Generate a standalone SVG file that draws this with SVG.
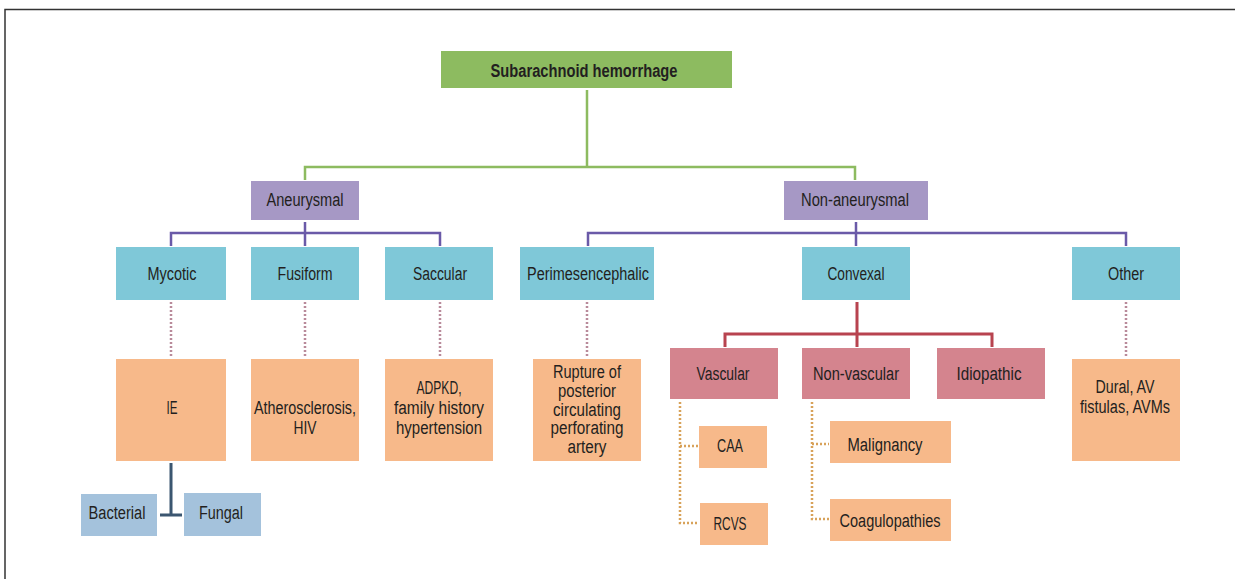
<svg xmlns="http://www.w3.org/2000/svg" width="1235" height="579" viewBox="0 0 1235 579">
<style>
text{font-family:"Liberation Sans",Arial,sans-serif;font-size:18px;fill:#231f20;text-anchor:middle}
.b{font-weight:bold}
.green{fill:#8dbb60}
.purple{fill:#a698c5}
.teal{fill:#7fc8d8}
.orange{fill:#f7b98a}
.red{fill:#d4848e}
.lblue{fill:#a4c2dc}
.lg{stroke:#8dbb60;stroke-width:2.5;fill:none}
.lp{stroke:#6a5aa8;stroke-width:2.5;fill:none}
.lr{stroke:#b8434f;stroke-width:3;fill:none}
.lt{stroke:#3b5670;stroke-width:3;fill:none}
.dp{stroke:#b98a9a;stroke-width:2.5;stroke-dasharray:2 2;fill:none}
.do{stroke:#d8a25a;stroke-width:2.5;stroke-dasharray:2 2;fill:none}
</style>
<rect width="1235" height="579" fill="#fff"/>
<path d="M5 579 V9.5 H1235" stroke="#333" stroke-width="1.5" fill="none"/>
<g id="connectors">
<path class="lg" d="M587 90 V167 M305 180 V167 H855 V180"/>
<path class="lp" d="M305 222 V233 M171 246 V233 H440 V246 M305 233 V246"/>
<path class="lp" d="M856 222 V233 M588 246 V233 H1126 V246 M856 233 V246"/>
<path class="dp" d="M171 302 V357 M305 302 V357 M440 302 V357 M587 302 V357 M1126 302 V357"/>
<path class="lt" d="M171 463 V515 M160 515 H182"/>
<path class="lr" d="M857 302 V334 M725 347 V334 H992 V347 M857 334 V347"/>
<path class="do" d="M680 402 V523 H698 M680 446 H698"/>
<path class="do" d="M812 402 V519 H829 M812 444 H829"/>
</g>
<g id="n-sah"><rect class="green" x="441" y="51" width="291" height="37"/><text class="b" x="584" y="77" textLength="187" lengthAdjust="spacingAndGlyphs">Subarachnoid hemorrhage</text></g>
<g id="n-aneurysmal"><rect class="purple" x="251" y="181" width="108" height="39"/><text x="305" y="206" textLength="77" lengthAdjust="spacingAndGlyphs">Aneurysmal</text></g>
<g id="n-nonaneurysmal"><rect class="purple" x="784" y="181" width="144" height="39"/><text x="855" y="206" textLength="108" lengthAdjust="spacingAndGlyphs">Non-aneurysmal</text></g>
<g id="n-mycotic"><rect class="teal" x="116" y="247" width="110" height="53"/><text x="172" y="280" textLength="49" lengthAdjust="spacingAndGlyphs">Mycotic</text></g>
<g id="n-fusiform"><rect class="teal" x="251" y="247" width="108" height="53"/><text x="305" y="280" textLength="55" lengthAdjust="spacingAndGlyphs">Fusiform</text></g>
<g id="n-saccular"><rect class="teal" x="385" y="247" width="108" height="53"/><text x="440" y="280" textLength="54" lengthAdjust="spacingAndGlyphs">Saccular</text></g>
<g id="n-perimesencephalic"><rect class="teal" x="520" y="247" width="134" height="53"/><text x="588" y="280" textLength="122" lengthAdjust="spacingAndGlyphs">Perimesencephalic</text></g>
<g id="n-convexal"><rect class="teal" x="802" y="247" width="108" height="53"/><text x="856" y="280" textLength="57" lengthAdjust="spacingAndGlyphs">Convexal</text></g>
<g id="n-other"><rect class="teal" x="1072" y="247" width="108" height="53"/><text x="1126" y="280" textLength="36" lengthAdjust="spacingAndGlyphs">Other</text></g>
<g id="n-ie"><rect class="orange" x="116" y="359" width="110" height="102"/><text x="172" y="414" textLength="11" lengthAdjust="spacingAndGlyphs">IE</text></g>
<g id="n-athero"><rect class="orange" x="251" y="359" width="108" height="102"/><text x="305" y="414" textLength="102" lengthAdjust="spacingAndGlyphs">Atherosclerosis,</text><text x="305" y="434" textLength="23" lengthAdjust="spacingAndGlyphs">HIV</text></g>
<g id="n-adpkd"><rect class="orange" x="385" y="359" width="108" height="102"/><text x="439" y="394" textLength="45" lengthAdjust="spacingAndGlyphs">ADPKD,</text><text x="439" y="414" textLength="90" lengthAdjust="spacingAndGlyphs">family history</text><text x="439" y="434" textLength="86" lengthAdjust="spacingAndGlyphs">hypertension</text></g>
<g id="n-rupture"><rect class="orange" x="533" y="359" width="108" height="102"/><text x="587" y="378" textLength="68" lengthAdjust="spacingAndGlyphs">Rupture of</text><text x="587" y="397" textLength="58" lengthAdjust="spacingAndGlyphs">posterior</text><text x="587" y="416" textLength="68" lengthAdjust="spacingAndGlyphs">circulating</text><text x="587" y="434" textLength="73" lengthAdjust="spacingAndGlyphs">perforating</text><text x="587" y="453" textLength="39" lengthAdjust="spacingAndGlyphs">artery</text></g>
<g id="n-dural"><rect class="orange" x="1072" y="359" width="108" height="102"/><text x="1125" y="393" textLength="59" lengthAdjust="spacingAndGlyphs">Dural, AV</text><text x="1125" y="413" textLength="90" lengthAdjust="spacingAndGlyphs">fistulas, AVMs</text></g>
<g id="n-vascular"><rect class="red" x="670" y="348" width="108" height="51"/><text x="723" y="380" textLength="53" lengthAdjust="spacingAndGlyphs">Vascular</text></g>
<g id="n-nonvascular"><rect class="red" x="802" y="348" width="108" height="51"/><text x="856" y="380" textLength="86" lengthAdjust="spacingAndGlyphs">Non-vascular</text></g>
<g id="n-idiopathic"><rect class="red" x="937" y="348" width="108" height="51"/><text x="989" y="380" textLength="65" lengthAdjust="spacingAndGlyphs">Idiopathic</text></g>
<g id="n-caa"><rect class="orange" x="699" y="426" width="68" height="42"/><text x="730" y="452" textLength="26" lengthAdjust="spacingAndGlyphs">CAA</text></g>
<g id="n-rcvs"><rect class="orange" x="700" y="503" width="68" height="42"/><text x="730" y="530" textLength="33" lengthAdjust="spacingAndGlyphs">RCVS</text></g>
<g id="n-malignancy"><rect class="orange" x="830" y="421" width="121" height="42"/><text x="885" y="451" textLength="75" lengthAdjust="spacingAndGlyphs">Malignancy</text></g>
<g id="n-coag"><rect class="orange" x="830" y="499" width="121" height="42"/><text x="890" y="527" textLength="101" lengthAdjust="spacingAndGlyphs">Coagulopathies</text></g>
<g id="n-bacterial"><rect class="lblue" x="81" y="494" width="76" height="42"/><text x="117" y="519" textLength="57" lengthAdjust="spacingAndGlyphs">Bacterial</text></g>
<g id="n-fungal"><rect class="lblue" x="184" y="493" width="77" height="43"/><text x="221" y="519" textLength="44" lengthAdjust="spacingAndGlyphs">Fungal</text></g>
</svg>
